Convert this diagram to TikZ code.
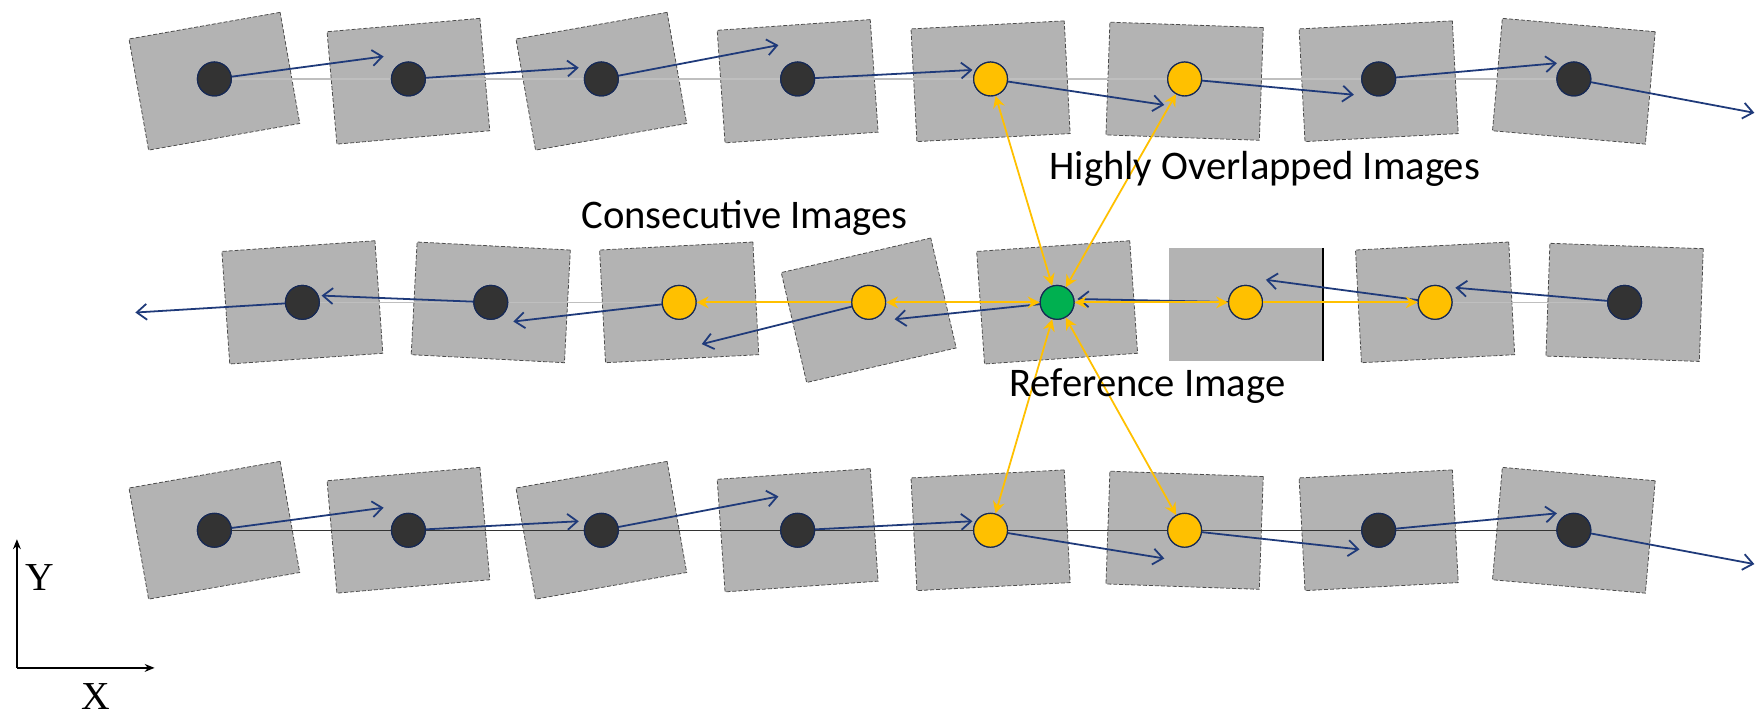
\documentclass[tikz,border=0pt]{standalone}
\usepackage{fontspec}
\setmainfont{Carlito}
\newfontfamily\serifx{Liberation Serif}
\usetikzlibrary{arrows.meta}
\definecolor{ylw}{HTML}{FFC000}
\definecolor{grn}{HTML}{00B050}
\definecolor{drk}{HTML}{333333}
\definecolor{blu}{HTML}{1F3A7A}
\definecolor{sq}{HTML}{B3B3B3}
\tikzset{
 img/.style={draw=black!70,dashed,dash pattern=on 2pt off 1pt,fill=sq,minimum width=136*0.02cm,minimum height=100*0.02cm,inner sep=0},
 imgs/.style={fill=sq,minimum width=136*0.02cm,minimum height=100*0.02cm,inner sep=0},
 dot/.style={circle,draw=blu!70!black,fill=drk,minimum size=30*0.02cm,inner sep=0,line width=0.6pt},
 ydot/.style={dot,fill=ylw},
 gdot/.style={dot,fill=grn},
 mv/.style={blu,line width=0.9pt,-{Straight Barb[length=5pt,width=8pt]}},
 yar/.style={ylw,line width=0.9pt,{Stealth[length=6pt,width=6pt]}-{Stealth[length=6pt,width=6pt]}},
 yar1/.style={ylw,line width=0.9pt,-{Stealth[length=6pt,width=6pt]}},
 lbl/.style={font=\fontsize{20.5}{23}\selectfont,inner sep=0}
}
\begin{document}
\begin{tikzpicture}[x=0.02cm,y=-0.02cm]
\useasboundingbox (0,0) rectangle (1560,643);
% squares
\foreach \n/\x/\y/\r in {t1/190/72/10,t2/362/72/5,t3/533/72/10,t4/707/72/4,t5/878/72/3,t6/1050/72/-2,t7/1222/72/3,t8/1395/72/-5,
 b1/190/470/10,b2/362/470/5,b3/533/470/10,b4/707/470/4,b5/878/470/3,b6/1050/470/-2,b7/1222/470/3,b8/1395/470/-5,
 m1/268/268/4,m2/435/268/-3,m3/602/268/3,m4/770/275/13,m5/937/268/4,m7/1272/268/3,m8/1440/268/-2}
 \node[img,rotate=\r] (s\n) at (\x,\y) {};
\node[imgs] (sm6) at (1104,270) {};
\draw[black,line width=0.9pt] (sm6.north east) -- (sm6.south east);
% guide lines
\coordinate (gt1) at (190,70); \coordinate (gt2) at (1395,70);
\coordinate (gm1) at (268,268); \coordinate (gm2) at (1440,268);
\coordinate (gb1) at (190,470); \coordinate (gb2) at (1395,470);
\draw[black!25,line width=0.6pt] (gt1) -- (gt2);
\draw[black!25,line width=0.6pt] (gm1) -- (gm2);
\draw[black!80,line width=0.6pt] (gb1) -- (gb2);
% dots
\foreach \n/\x/\y/\s in {t1/190/70/dot,t2/362/70/dot,t3/533/70/dot,t4/707/70/dot,t5/878/70/ydot,t6/1050/70/ydot,t7/1222/70/dot,t8/1395/70/dot,
 b1/190/470/dot,b2/362/470/dot,b3/533/470/dot,b4/707/470/dot,b5/878/470/ydot,b6/1050/470/ydot,b7/1222/470/dot,b8/1395/470/dot,
 m1/268/268/dot,m2/435/268/dot,m3/602/268/ydot,m4/770/268/ydot,m5/937/268/gdot,m6/1104/268/ydot,m7/1272/268/ydot,m8/1440/268/dot}
 \node[\s] (\n) at (\x,\y) {};
% motion arrows
\foreach \a/\x/\y in {t1/340/50,t2/513/60,t3/690/40,t4/862/62,t5/1032/93,t6/1200/84,t7/1380/56,t8/1555/100,
 b1/340/450,b2/513/462,b3/690/440,b4/862/462,b5/1032/495,b6/1205/487,b7/1380/455,b8/1555/500,
 m8/1290/255,m7/1122/248,m6/955/265,m5/793/283,m4/622/305,m3/455/285,m2/285/262,m1/120/277}
 { \coordinate (e\a) at (\x,\y); \draw[mv] (\a.center) -- (e\a); }
% redraw dots on top of lines
\foreach \n/\s in {t1/dot,t2/dot,t3/dot,t4/dot,t5/ydot,t6/ydot,t7/dot,t8/dot,b1/dot,b2/dot,b3/dot,b4/dot,b5/ydot,b6/ydot,b7/dot,b8/dot,m1/dot,m2/dot,m3/ydot,m4/ydot,m5/gdot,m6/ydot,m7/ydot,m8/dot}
 \node[\s] at (\n) {};
% overlap arrows
\draw[yar] (m5) -- (t5);
\draw[yar] (m5) -- (t6);
\draw[yar] (m5) -- (b5);
\draw[yar] (m5) -- (b6);
\draw[yar] (m5) -- (m4);
\draw[yar1] (m4) -- (m3);
\draw[yar] (m5) -- (m6);
\draw[yar1] (m6) -- (m7);
% labels
\node[lbl] (l1) at (1121,150) {Highly Overlapped Images};
\node[lbl] (l2) at (660,193) {Consecutive Images};
\node[lbl] (l3) at (1017,342) {Reference Image};
% axes
\coordinate (o) at (15,592); \coordinate (ay) at (15,478); \coordinate (ax) at (137,592);
\draw[black,line width=0.6pt,-{Stealth[length=5pt,width=4pt]}] (o) -- (ay);
\draw[black,line width=0.6pt,-{Stealth[length=5pt,width=4pt]}] (o) -- (ax);
\node[font=\serifx\fontsize{20}{22}\selectfont] (ly) at (35,512) {Y};
\node[font=\serifx\fontsize{20}{22}\selectfont] (lx) at (85,617) {X};
\end{tikzpicture}
\end{document}
